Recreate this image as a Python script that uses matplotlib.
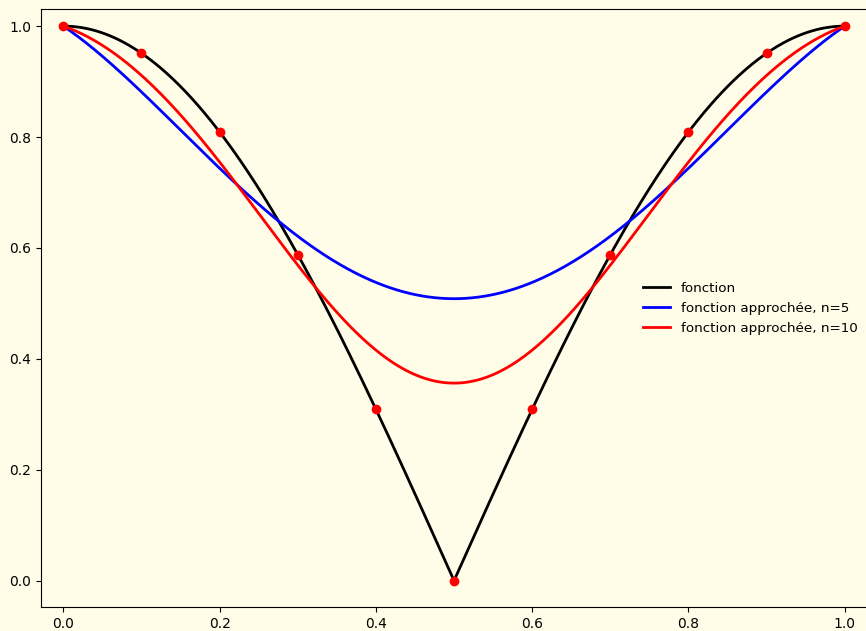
import numpy as np
import matplotlib
matplotlib.use("Agg")
import matplotlib.pyplot as plt
from math import comb

# Sample points of f(x) = |cos(pi x)| on the grid k/10
x_nodes = [0.0, 0.1, 0.2, 0.3, 0.4, 0.5, 0.6, 0.7, 0.8, 0.9, 1.0]
y_nodes = [1.0, 0.951, 0.809, 0.588, 0.309, 0.0, 0.309, 0.588, 0.809, 0.951, 1.0]

labels = ["fonction", "fonction approchée, n=5", "fonction approchée, n=10"]
bg = "#fffde8"


def bernstein(values, t):
    n = len(values) - 1
    return sum(v * comb(n, k) * t**k * (1 - t)**(n - k) for k, v in enumerate(values))


t = np.linspace(0, 1, 500)
f = np.abs(np.cos(np.pi * t))
b5 = bernstein(y_nodes[::2], t)
b10 = bernstein(y_nodes, t)

fig = plt.figure(figsize=(8.66, 6.31), dpi=100, facecolor=bg)
ax = fig.add_axes([0.047, 0.0376, 0.9546, 0.9474], facecolor=bg)

ax.plot(t, f, color="k", lw=2, label=labels[0])
ax.plot(t, b5, color="b", lw=2, label=labels[1])
ax.plot(t, b10, color="r", lw=2, label=labels[2])
ax.plot(x_nodes, y_nodes, "o", color="r", ms=6, zorder=5)

ax.set_xlim(-0.029, 1.029)
ax.set_ylim(-0.048, 1.030)
ax.set_xticks([0.0, 0.2, 0.4, 0.6, 0.8, 1.0])
ax.set_yticks([0.0, 0.2, 0.4, 0.6, 0.8, 1.0])

ax.legend(loc="center right", frameon=False, fontsize=9.7,
          bbox_to_anchor=(1.003, 0.5))

fig.savefig("out.png", dpi=100, facecolor=bg)
